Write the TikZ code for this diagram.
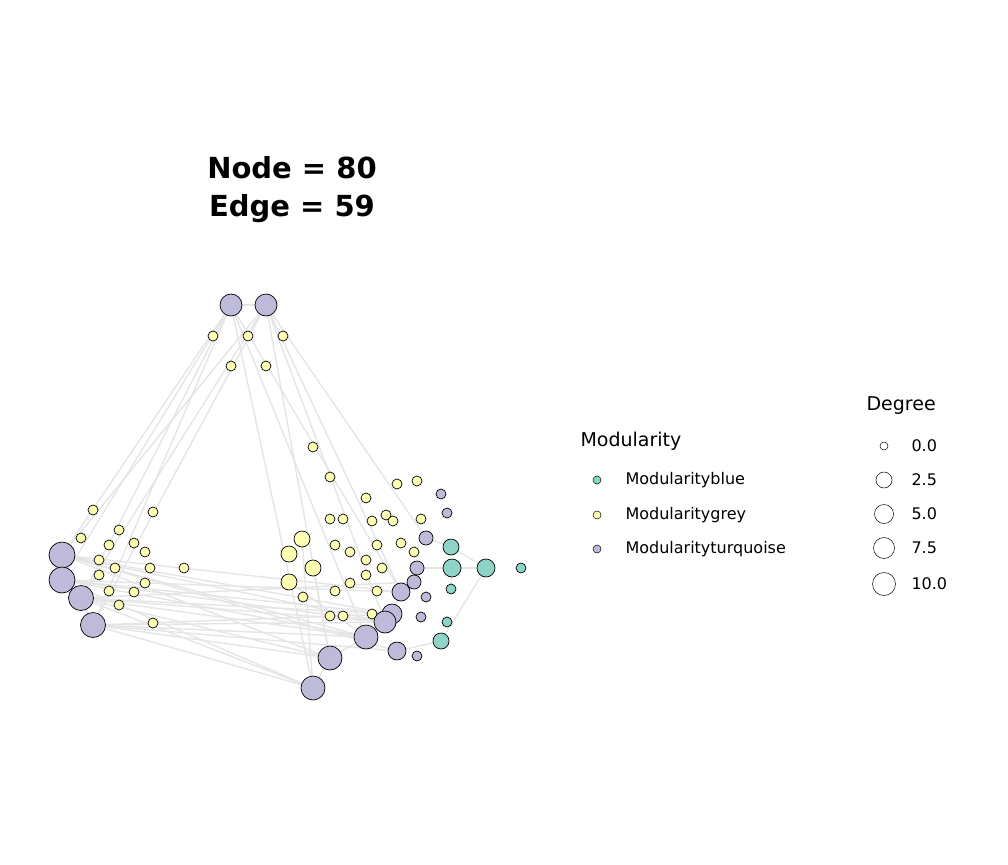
\documentclass[tikz,border=0pt]{standalone}
\usepackage{fontspec}
\setmainfont{DejaVu Sans}
\usetikzlibrary{backgrounds}
\definecolor{cP}{HTML}{BEBADA}
\definecolor{cY}{HTML}{FFFFB3}
\definecolor{cT}{HTML}{8DD3C7}
\begin{document}
\begin{tikzpicture}[x=1pt,y=-1pt,
  nd/.style={circle,draw=black,line width=0.7pt,inner sep=0pt},
  ed/.style={draw=black!10,line width=1.4pt},
  lt/.style={font=\fontsize{16}{19}\selectfont,anchor=west}]
\useasboundingbox (0,0) rectangle (1008,864);
\foreach \i/\x/\y/\r/\c in {
1/231/305/11/cP,2/266/305/11/cP,
3/213/336/5/cY,4/248/336/5/cY,5/283/336/5/cY,6/231/366/5/cY,7/266/366/5/cY,
8/62/555/13/cP,9/62/580/13/cP,10/81/598/12.5/cP,11/93/625/12.5/cP,
12/93/510/5/cY,13/153/512/5/cY,14/81/538/5/cY,15/119/530/5/cY,16/109/545/5/cY,17/134/543/5/cY,18/145/552/5/cY,19/99/560/5/cY,20/115/568/5/cY,21/150/568/5/cY,22/184/568/5/cY,23/99/575/5/cY,24/145/583/5/cY,25/109/591/5/cY,26/134/592/5/cY,27/119/605/5/cY,28/153/623/5/cY,
29/313/447/5/cY,30/330/477/5/cY,31/397/484/5/cY,32/417/481/5/cY,33/366/498/5/cY,34/330/519/5/cY,35/343/519/5/cY,36/372/521/5/cY,37/386/515/5/cY,38/393/521/5/cY,39/421/519/5/cY,40/335/545/5/cY,41/350/552/5/cY,42/377/545/5/cY,43/401/543/5/cY,44/414/552/5/cY,45/366/560/5/cY,46/382/568/5/cY,47/350/583/5/cY,48/366/575/5/cY,49/377/591/5/cY,50/335/591/5/cY,51/303/597/5/cY,52/330/616/5/cY,53/343/616/5/cY,54/372/614/5/cY,
55/302/539/8/cY,56/289/554/8/cY,57/313/568/8/cY,58/289/582/8/cY,
59/441/494/5/cP,60/447/513/5/cP,61/426/538/7/cP,62/417/568/7/cP,63/414/582/7/cP,64/401/592/9/cP,65/426/597/5/cP,66/392/614/10/cP,67/385/622/11/cP,68/421/617/5/cP,69/366/637/12/cP,70/397/651/9/cP,71/417/656/5/cP,72/330/658/12/cP,73/313/688/12/cP,
74/451/547/8/cT,75/452/568/9/cT,76/486/568/9/cT,77/521/568/5/cT,78/451/589/5/cT,79/447/622/5/cT,80/441/641/8/cT}
  \node[nd,fill=\c,minimum size=2*\r] (n\i) at (\x,\y) {};
\begin{pgfonlayer}{background}
\foreach \a/\b in {1/8,1/9,1/10,1/11,1/73,1/69,1/2,2/8,2/10,2/67,2/72,2/61,2/64,
8/69,8/67,8/66,8/72,8/64,9/69,9/64,9/73,9/66,10/67,10/72,10/69,10/73,10/63,
11/73,11/72,11/69,11/66,11/70,73/72,72/69,69/67,67/66,66/64,64/63,63/62,
8/9,9/10,10/11,76/75,76/74,76/80,75/78,80/70,75/62,74/61,55/73,57/72,
8/70,9/67,11/67,10/66,2/11,1/64,8/11,58/69}
  \draw[ed] (n\a.center) -- (n\b.center);
\end{pgfonlayer}
\node[font=\fontsize{29}{38}\selectfont\bfseries,align=center] (title) at (292,190) {Node = 80\\Edge = 59};
\node[font=\fontsize{19}{22}\selectfont,anchor=west] (mt) at (577,441) {Modularity};
\foreach \y/\c/\t/\k in {480/cT/Modularityblue/a,515/cY/Modularitygrey/b,549/cP/Modularityturquoise/c}{
  \node[nd,fill=\c,minimum size=8,line width=0.5pt] (m\k) at (597,\y) {};
  \node[lt] (mtxt\k) at (622,\y) {\t};}
\node[font=\fontsize{19}{22}\selectfont,anchor=west] (dt) at (863,406) {Degree};
\foreach \y/\r/\t/\k in {446/4/0.0/a,480/8/2.5/b,514/9.5/5.0/c,548/10.5/7.5/d,584/11.5/10.0/e}{
  \node[nd,fill=white,minimum size=2*\r,line width=0.5pt] (d\k) at (884,\y) {};
  \node[lt] (dtxt\k) at (908,\y) {\t};}
\end{tikzpicture}
\end{document}
